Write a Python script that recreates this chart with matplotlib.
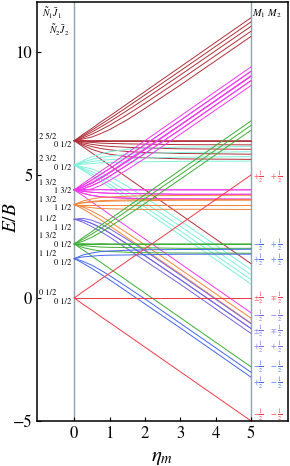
import matplotlib
matplotlib.use("Agg")
import matplotlib.pyplot as plt

plt.rcParams["font.family"] = "STIXGeneral"
plt.rcParams["mathtext.fontset"] = "stix"

eta = [0, 0.1, 0.25, 0.5, 0.75, 1, 1.5, 2, 3, 5]

# single-molecule levels E/B
n0 = [
    [0, 0.05, 0.13, 0.25, 0.38, 0.5, 0.75, 1.0, 1.5, 2.5],
    [0, -0.05, -0.13, -0.25, -0.38, -0.5, -0.75, -1.0, -1.5, -2.5],
]
n1_j32 = [
    [2.2, 2.25, 2.33, 2.45, 2.58, 2.70, 2.95, 3.20, 3.70, 4.70],
    [2.2, 2.22, 2.26, 2.35, 2.45, 2.56, 2.80, 3.04, 3.52, 4.52],
    [2.2, 2.19, 2.18, 2.22, 2.29, 2.39, 2.61, 2.84, 3.33, 4.32],
    [2.2, 2.15, 2.08, 1.95, 1.83, 1.70, 1.45, 1.20, 0.70, -0.30],
]
n1_j12 = [
    [1.6, 1.58, 1.54, 1.45, 1.35, 1.24, 1.00, 0.76, 0.28, -0.72],
    [1.6, 1.61, 1.62, 1.58, 1.51, 1.41, 1.19, 0.96, 0.47, -0.52],
]
n2_j52 = [
    [6.4, 6.45, 6.53, 6.65, 6.78, 6.90, 7.15, 7.40, 7.90, 8.90],
    [6.4, 6.43, 6.48, 6.58, 6.68, 6.79, 7.02, 7.26, 7.74, 8.73],
    [6.4, 6.41, 6.44, 6.50, 6.58, 6.67, 6.88, 7.10, 7.57, 8.55],
    [6.4, 6.39, 6.39, 6.41, 6.46, 6.53, 6.71, 6.92, 7.38, 8.35],
    [6.4, 6.37, 6.34, 6.30, 6.31, 6.35, 6.50, 6.71, 7.16, 8.14],
    [6.4, 6.35, 6.28, 6.15, 6.03, 5.90, 5.65, 5.40, 4.90, 3.90],
]
n2_j32 = [
    [5.4, 5.37, 5.32, 5.22, 5.12, 5.01, 4.78, 4.54, 4.06, 3.07],
    [5.4, 5.39, 5.36, 5.30, 5.22, 5.13, 4.92, 4.70, 4.23, 3.25],
    [5.4, 5.41, 5.41, 5.39, 5.34, 5.27, 5.09, 4.88, 4.42, 3.45],
    [5.4, 5.43, 5.46, 5.50, 5.49, 5.45, 5.30, 5.09, 4.64, 3.66],
]

# pair manifolds: (molecule 1 levels, molecule 2 levels, colour)
manifolds = [
    (n2_j52, n0, "#b0303a"),
    (n2_j32, n0, "#7ff0da"),
    (n1_j32, n1_j32, "#f038ec"),
    (n1_j32, n1_j12, "#f4843a"),
    (n1_j12, n1_j12, "#7464e4"),
    (n1_j32, n0, "#3cae34"),
    (n1_j12, n0, "#4466ee"),
    (n0, n0, "#ee3a48"),
]

left_labels = [("2 5/2", "0 1/2"), ("2 3/2", "0 1/2"), ("1 3/2", "1 3/2"),
               ("1 3/2", "1 1/2"), ("1 1/2", "1 1/2"), ("1 3/2", "0 1/2"),
               ("1 1/2", "0 1/2"), ("0 1/2", "0 1/2")]
left_label_y = [6.38, 5.47, 4.52, 3.82, 3.03, 2.34, 1.6, 0.02]

right_labels = [("+", "+", 4.9, "#ee3a48"), ("-", "+", 2.15, "#4466ee"),
                ("+", "+", 1.55, "#4466ee"), ("\\pm", "\\mp", 0.0, "#ee3a48"),
                ("-", "-", -0.74, "#6f68e4"), ("\\pm", "\\mp", -1.37, "#6f68e4"),
                ("+", "+", -2.0, "#6f68e4"), ("-", "-", -2.8, "#4466ee"),
                ("+", "-", -3.45, "#4466ee"), ("-", "-", -4.75, "#ee3a48")]

fig = plt.figure(figsize=(2.9, 4.66), dpi=100)
ax = fig.add_axes([0.128, 0.097, 0.865, 0.899])

for lev1, lev2, col in manifolds:
    for a in lev1:
        for b in lev2:
            ax.plot(eta, [p + q for p, q in zip(a, b)], color=col, lw=0.7)

ax.axvline(0, color="#8fa3ad", lw=1.0, zorder=0)
ax.axvline(5, color="#8fa3ad", lw=1.0, zorder=0)

for (top, bot), y in zip(left_labels, left_label_y):
    ax.text(-0.99, y + 0.17, top, fontsize=6, ha="left", va="center")
    ax.text(-0.08, y - 0.17, bot, fontsize=6, ha="right", va="center")

for s1, s2, y, col in right_labels:
    ax.text(5.05, y, r"$%s\frac{1}{2}$" % s1, color=col, fontsize=6,
            ha="left", va="center")
    ax.text(5.55, y, r"$%s\;\frac{1}{2}$" % s2, color=col, fontsize=6,
            ha="left", va="center")

ax.text(-0.92, 11.58, r"$\tilde{N}_1\bar{J}_1$", fontsize=7, va="center")
ax.text(-0.72, 10.9, r"$\tilde{N}_2\bar{J}_2$", fontsize=7, va="center")
ax.text(5.03, 11.58, r"$M_1\ M_2$", fontsize=7.5, va="center")

ax.set_xlim(-1.05, 6.05)
ax.set_ylim(-5, 12.05)
ax.set_xticks([0, 1, 2, 3, 4, 5])
ax.set_yticks([-5, 0, 5, 10])
ax.tick_params(direction="in", length=3, labelsize=12, top=False, right=False)
for sp in ax.spines.values():
    sp.set_linewidth(1.1)

ax.set_xlabel(r"$\eta_m$", fontsize=15, labelpad=4)
ax.set_ylabel(r"$E/B$", fontsize=14)
ax.yaxis.set_label_coords(-0.068, 0.485)

fig.savefig("out.png", dpi=100)
